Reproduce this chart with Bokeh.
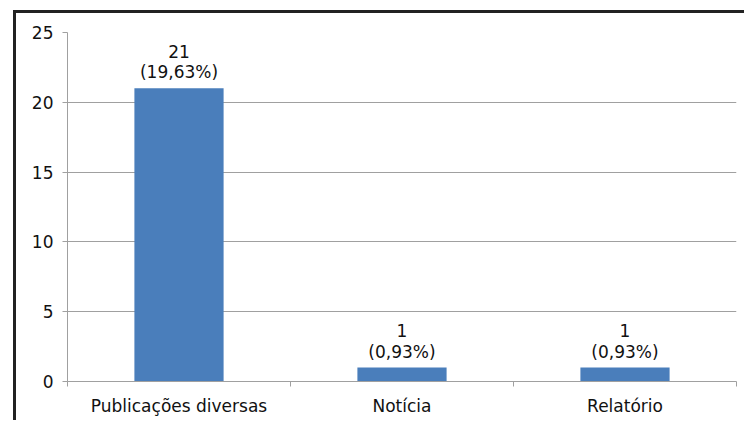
from bokeh.plotting import figure
from bokeh.models import FixedTicker, Range1d, ColumnDataSource
from bokeh.core.properties import value
from bokeh.embed import file_html
from bokeh.resources import INLINE

categories = ["Publicações diversas", "Notícia", "Relatório"]
counts = [21, 1, 1]
percents = ["(19,63%)", "(0,93%)", "(0,93%)"]
y_ticks = [0, 5, 10, 15, 20, 25]

xs = [i + 0.5 for i in range(len(categories))]
src = ColumnDataSource(dict(x=xs, top=counts, cnt=[str(c) for c in counts], pct=percents))

FONT = "DejaVu Sans"
FS = "17px"
TXT = "#111111"
GRID = "#a0a0a0"

OFF_L, OFF_T, BW = 13, 10, 3
CL, CT = OFF_L + BW, OFF_T + BW  # canvas origin in the window
W = 747 - CL
H = 423 - CT
p = figure(width=W, height=H, output_backend="svg", toolbar_location=None,
           x_range=Range1d(0, len(categories)), y_range=Range1d(0, 25),
           min_border_left=67 - CL, min_border_right=W - (736 - CL), min_border_top=32 - CT,
           min_border_bottom=H - (381 - CT))
p.margin = (OFF_T, 0, 0, OFF_L)
p.styles = {"border-top": "3px solid #222222", "border-left": "3px solid #222222"}
p.outline_line_color = None
p.background_fill_color = "white"
p.border_fill_color = "white"

p.vbar(x="x", top="top", bottom=0, width=0.4, source=src, fill_color="#4a7ebb", line_color=None)

font = value(FONT)
p.text(x="x", y="top", text="pct", source=src, text_font=font, text_font_size=FS,
       text_align="center", text_baseline="alphabetic", y_offset=-16, text_color=TXT)
p.text(x="x", y="top", text="cnt", source=src, text_font=font, text_font_size=FS,
       text_align="center", text_baseline="alphabetic", y_offset=-37, text_color=TXT)

p.xgrid.grid_line_color = None
p.ygrid.grid_line_color = GRID
p.ygrid.ticker = FixedTicker(ticks=y_ticks)

p.yaxis.ticker = FixedTicker(ticks=y_ticks)
p.yaxis.axis_line_color = GRID
p.yaxis.major_tick_line_color = GRID
p.yaxis.major_tick_out = 5
p.yaxis.major_tick_in = 0
p.yaxis.minor_tick_line_color = None
p.yaxis.major_label_text_font = FONT
p.yaxis.major_label_text_font_size = FS
p.yaxis.major_label_text_color = TXT
p.yaxis.major_label_standoff = 9

p.xaxis.ticker = FixedTicker(ticks=xs, minor_ticks=list(range(len(categories) + 1)))
p.xaxis.major_label_overrides = {x: c for x, c in zip(xs, categories)}
p.xaxis.axis_line_color = GRID
p.xaxis.major_tick_line_color = None
p.xaxis.major_tick_out = 0
p.xaxis.major_tick_in = 0
p.xaxis.minor_tick_line_color = GRID
p.xaxis.minor_tick_out = 5
p.xaxis.minor_tick_in = 0
p.xaxis.major_label_text_font = FONT
p.xaxis.major_label_text_font_size = FS
p.xaxis.major_label_text_color = TXT
p.xaxis.major_label_standoff = 9

open("out.html", "w").write(file_html(p, INLINE))
